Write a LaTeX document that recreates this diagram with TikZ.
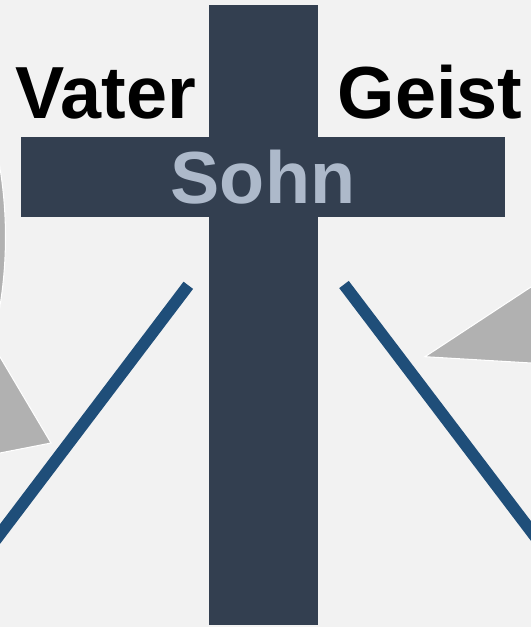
\documentclass[tikz,border=0pt]{standalone}
\usepackage{fontspec}
\setmainfont{Liberation Sans}
\usepackage{xcolor}
\usepackage{tikz}
\usetikzlibrary{calc}
\definecolor{paper}{HTML}{F2F2F2}
\definecolor{crossdark}{HTML}{333F50}
\definecolor{sohnblue}{HTML}{ADB9CA}
\definecolor{rayblue}{HTML}{1F4E79}
\definecolor{arrowgray}{HTML}{B1B1B1}

\begin{document}
\begin{tikzpicture}[x=0.02cm, y=-0.02cm,
  word/.style={font=\fontsize{42}{42}\selectfont\bfseries, inner sep=0pt, anchor=base},
  ray/.style={line width=6.8pt, rayblue},
  tip/.style={fill=arrowgray, draw=white, line width=0.6pt}]
% background and frame
\fill[paper] (0,0) rectangle (531,627);
\useasboundingbox (0,0) rectangle (531,627);
\clip (0,0) rectangle (531,627);
% circular arrow pieces (cut by the frame)
\draw[tip] (-423.5,237) circle (429);
\draw[tip] (51,443) -- (-40,289.5) -- (-40,460.8) -- cycle;
\draw[tip] (425,356.7) -- (560,267.9) -- (560,364.7) -- cycle;
% rays
\coordinate (lt) at (188.3,285.3); \coordinate (lb) at ($(lt)!1.15!(0,534)$);
\coordinate (rt) at (344,284.5);   \coordinate (rb) at ($(rt)!1.15!(531,531)$);
\draw[ray] (lt) -- (lb);
\draw[ray] (rt) -- (rb);
% the cross
\fill[crossdark] (209,5) rectangle (318,625);
\fill[crossdark] (21,137) rectangle (505,217);
% labels
\node[word] (vater) at (105.5,118) {Vater};
\node[word] (geist) at (430,118) {Geist};
\node[word, sohnblue] (sohn) at (263,203) {Sohn};
\end{tikzpicture}
\end{document}
